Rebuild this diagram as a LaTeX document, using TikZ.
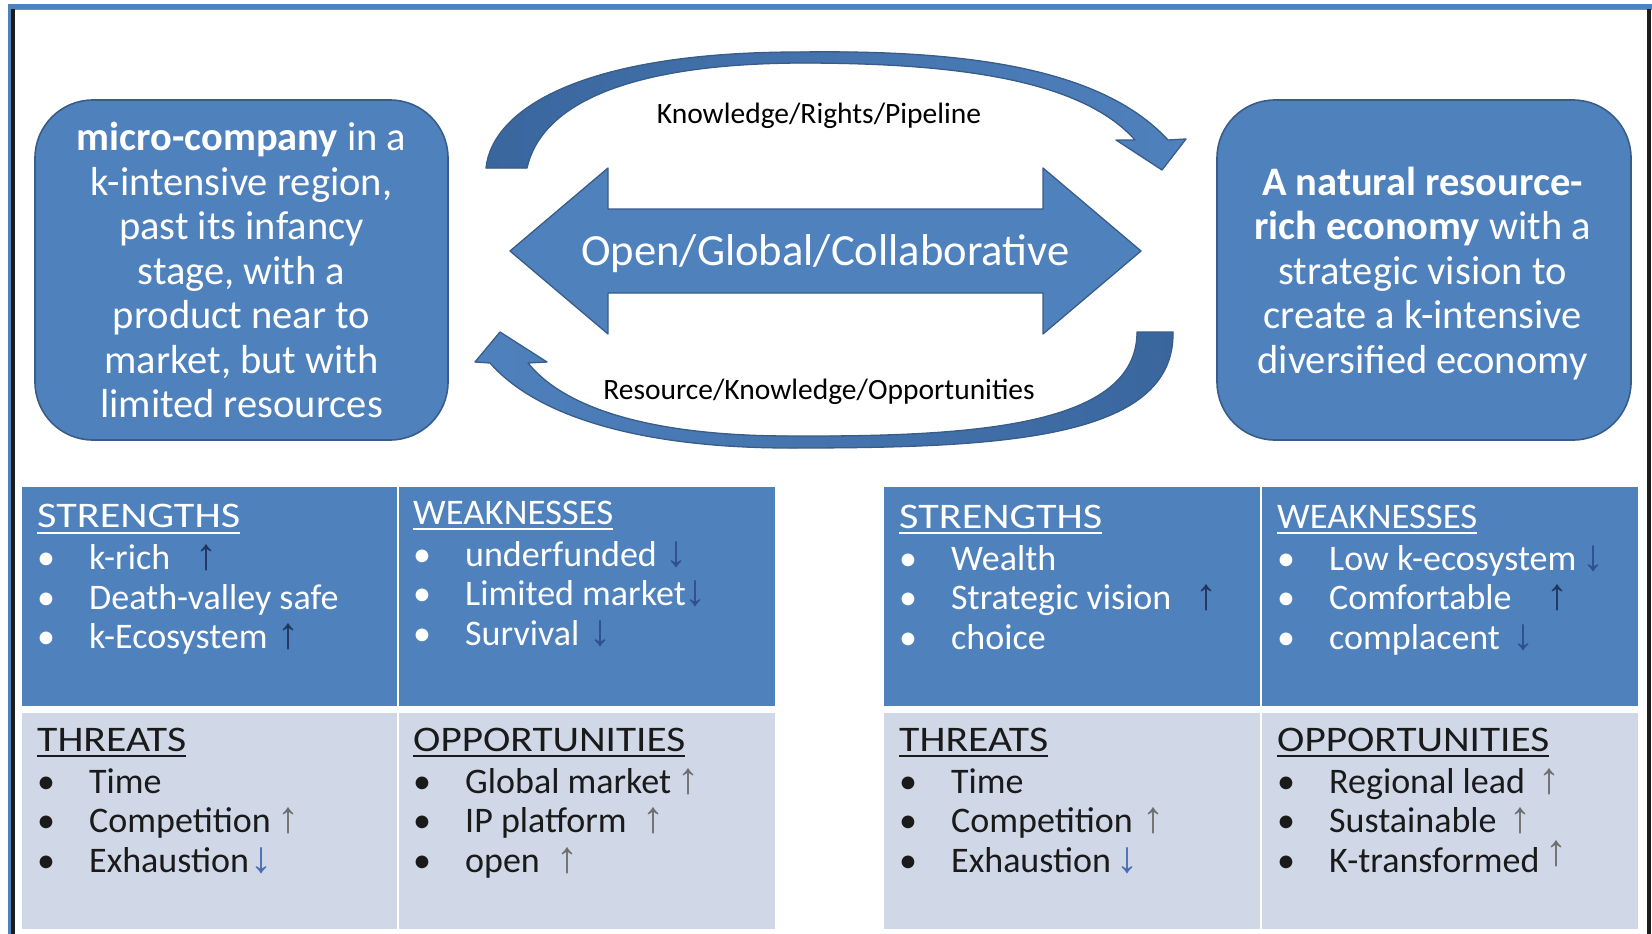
\documentclass[tikz,border=0pt]{standalone}
\usepackage{fontspec}
\setmainfont{Carlito}
\newfontfamily\arrowfont{Liberation Sans}

\definecolor{ofblue}{HTML}{4F81BD}
\definecolor{ofline}{HTML}{385D8A}
\definecolor{oflight}{HTML}{D0D8E8}
\definecolor{ofdeep}{HTML}{3A669E}
\definecolor{txtdark}{HTML}{1A1A1A}
\definecolor{arnavy}{HTML}{1F355E}
\definecolor{arblue}{HTML}{2F4F8F}
\definecolor{argrey}{HTML}{6E6E6E}
\definecolor{arsoft}{HTML}{4A6BB5}
\definecolor{framedark}{HTML}{1C1C1C}

% underlined heading stretched to a given width; the rule does not change the line depth
\newsavebox\hdgbox
\newcommand\hdg[2]{\sbox\hdgbox{\resizebox{#1pt}{\height}{#2}}\raisebox{0pt}[0pt][0pt]{\rlap{\vrule width\wd\hdgbox height -4pt depth 6pt}}\usebox\hdgbox}
% one SWOT cell: heading and a list of items
\newcommand\swotlist[3]{\vtop{\baselineskip=39.5pt\lineskiplimit=-100pt\hbox{\hdg{#1}{#2}}\vskip 2.5pt #3}}
% item with a trend arrow centred at a fixed distance from the text start
\newcommand\itmA[4]{\hbox{\makebox[52pt][l]{•}\makebox[#1pt][l]{#2}\makebox[0pt]{\arrowfont\fontsize{44}{44}\selectfont\color{#3}#4}}}
% item without arrow
\newcommand\itmN[1]{\hbox{\makebox[52pt][l]{•}#1}}

\begin{document}
\begin{tikzpicture}[x=1pt, y=-1pt,
  rbox/.style={draw=ofline, line width=1.6pt, fill=ofblue, rounded corners=58pt, inner sep=0},
  rtext/.style={text=white, align=center, inner sep=0, font=\fontsize{40.5}{44.5}\selectfont},
  cellD/.style={fill=ofblue, anchor=north west, inner sep=0, outer sep=0},
  cellL/.style={fill=oflight, anchor=north west, inner sep=0, outer sep=0},
  swD/.style={anchor=base west, inner sep=0, text=white, font=\fontsize{36}{39.5}\selectfont},
  swL/.style={anchor=base west, inner sep=0, text=txtdark, font=\fontsize{36}{39.5}\selectfont},
  flow/.style={draw=ofline, line width=1.3pt, line join=round},
  lbl/.style={inner sep=0, text=black, font=\fontsize{29.5}{33}\selectfont}]

\useasboundingbox (0,0) rectangle (1652,934);
\fill[white] (0,0) rectangle (1652,934);

% frame
\fill[ofblue] (8,4.5) rectangle (1652,9);
\fill[black!45] (11,9) rectangle (1652,10.5);
\fill[ofblue] (8,4.5) rectangle (11,934);
\fill[framedark] (11,9) rectangle (15,934);
\fill[framedark] (1647,9) rectangle (1651,934);

% the two actors
\node[rbox, minimum width=413pt, minimum height=340pt] (micro) at (241.5,270) {};
\node[rtext] (microtxt) at (micro.center)
  {\textbf{micro-company} in a\\k-intensive region,\\past its infancy\\stage, with a\\product near to\\market, but with\\limited resources};
\node[rbox, minimum width=414pt, minimum height=340pt] (economy) at (1424,270) {};
\node[rtext, xshift=-1.5pt, yshift=-3.5pt] (economytxt) at (economy.center)
  {\textbf{A natural resource-}\\\textbf{rich economy} with a\\strategic vision to\\create a k-intensive\\diversified economy};

% two-headed arrow in the middle
\coordinate (dL) at (510,251);
\coordinate (dR) at (1141,251);
\filldraw[flow, fill=ofblue] (dL) -- (608,168) -- (608,209) -- (1043,209) -- (1043,168) -- (dR)
  -- (1043,334) -- (1043,293) -- (608,293) -- (608,334) -- cycle;
\node[inner sep=0, text=white, font=\fontsize{44.6}{50}\selectfont] (ogc) at (825.5,254) {Open/Global/Collaborative};

% upper curved arrow, from the company to the economy
\filldraw[flow, left color=ofdeep, right color=ofblue]
  (486,168) .. controls (492,110) and (580,52) .. (800,52)
  .. controls (960,50) and (1100,66) .. (1168,140)
  -- (1186,139) -- (1162,170) -- (1116,140) -- (1135,140)
  .. controls (1080,78) and (950,63) .. (800,63)
  .. controls (615,64) and (540,110) .. (527,168) -- cycle;
\node[lbl] (krp) at (819,116) {Knowledge/Rights/Pipeline};

% lower curved arrow, from the economy back to the company
\filldraw[flow, left color=ofblue, right color=ofdeep]
  (1173,332) .. controls (1175,440) and (1000,448) .. (790,448)
  .. controls (650,448) and (540,420) .. (490,363)
  -- (475,362) -- (500,332) -- (547,362) -- (528,363)
  .. controls (570,415) and (670,436) .. (790,436)
  .. controls (980,437) and (1137,425) .. (1137,332) -- cycle;
\node[lbl] (rko) at (819,392) {Resource/Knowledge/Opportunities};

% SWOT grid of the company
\node[cellD, minimum width=375pt, minimum height=219pt] (lS) at (22,487) {};
\node[cellD, minimum width=376pt, minimum height=219pt] (lW) at (399,487) {};
\node[cellL, minimum width=375pt, minimum height=216pt] (lT) at (22,713) {};
\node[cellL, minimum width=376pt, minimum height=216pt] (lO) at (399,713) {};

\node[swD] (lStxt) at (37,527.5) {\swotlist{203}{STRENGTHS}{%
  \itmA{117}{k-rich}{arnavy}{↑}
  \itmN{Death-valley safe}
  \itmA{199}{k-Ecosystem}{arnavy}{↑}}};
\node[swD] (lWtxt) at (413,524) {\swotlist{200}{WEAKNESSES}{%
  \itmA{211}{underfunded}{arblue}{↓}
  \itmA{230}{Limited market}{arblue}{↓}
  \itmA{135}{Survival}{arblue}{↓}}};
\node[swL] (lTtxt) at (37,751) {\swotlist{149}{THREATS}{%
  \itmN{Time}
  \itmA{199}{Competition}{argrey}{↑}
  \itmA{172}{Exhaustion}{arsoft}{↓}}};
\node[swL] (lOtxt) at (413,751) {\swotlist{272}{OPPORTUNITIES}{%
  \itmA{223}{Global market}{argrey}{↑}
  \itmA{188}{IP platform}{argrey}{↑}
  \itmA{102}{open}{argrey}{↑}}};

% SWOT grid of the economy
\node[cellD, minimum width=376pt, minimum height=219pt] (rS) at (884,487) {};
\node[cellD, minimum width=376pt, minimum height=219pt] (rW) at (1262,487) {};
\node[cellL, minimum width=376pt, minimum height=216pt] (rT) at (884,713) {};
\node[cellL, minimum width=376pt, minimum height=216pt] (rO) at (1262,713) {};

\node[swD] (rStxt) at (899,528) {\swotlist{203}{STRENGTHS}{%
  \itmN{Wealth}
  \itmA{255}{Strategic vision}{arnavy}{↑}
  \itmN{choice}}};
\node[swD] (rWtxt) at (1277,528) {\swotlist{200}{WEAKNESSES}{%
  \itmA{264}{Low k-ecosystem}{arblue}{↓}
  \itmA{228}{Comfortable}{arnavy}{↑}
  \itmA{194}{complacent}{arblue}{↓}}};
\node[swL] (rTtxt) at (899,751) {\swotlist{149}{THREATS}{%
  \itmN{Time}
  \itmA{202}{Competition}{argrey}{↑}
  \itmA{176}{Exhaustion}{arsoft}{↓}}};
\node[swL] (rOtxt) at (1277,751) {\swotlist{272}{OPPORTUNITIES}{%
  \itmA{220}{Regional lead}{argrey}{↑}
  \itmA{191}{Sustainable}{argrey}{↑}
  \itmA{227}{K-transformed}{argrey}{\raisebox{7pt}{↑}}}};

\end{tikzpicture}
\end{document}
